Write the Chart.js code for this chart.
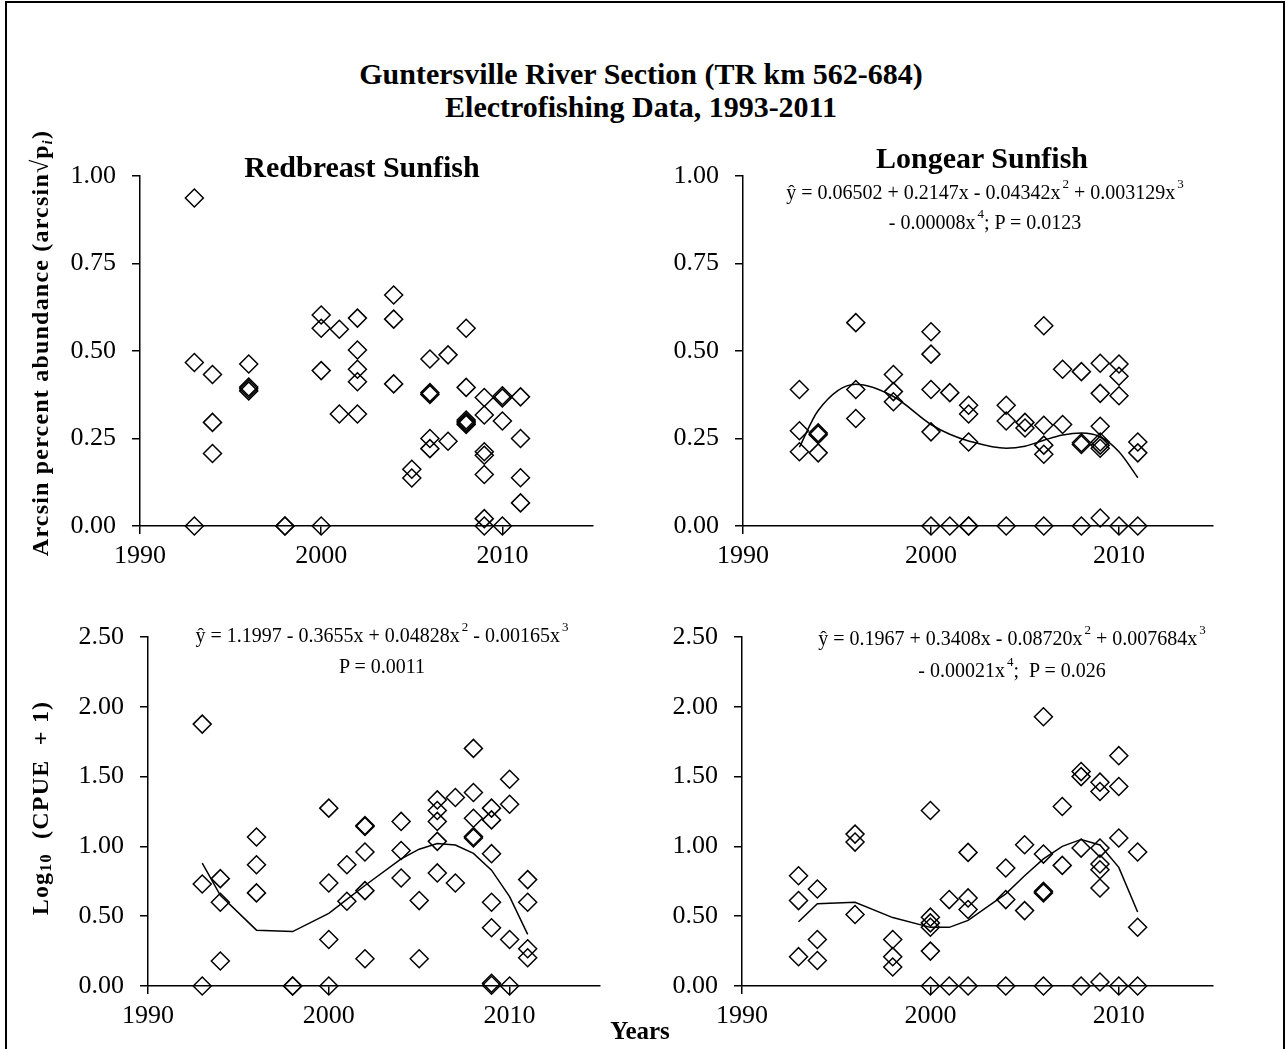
<!DOCTYPE html>
<html><head><meta charset="utf-8">
<script src="https://cdn.jsdelivr.net/npm/chart.js@4.4.1/dist/chart.umd.min.js"></script>
<style>
html,body{margin:0;padding:0;background:#fff;}
#wrap{position:relative;width:1285px;height:1049px;overflow:hidden;background:#fff;font-family:'Liberation Serif','Times New Roman',Times,serif;color:#000;}
canvas{position:absolute;}
#frame{position:absolute;left:5px;top:1px;width:1280px;height:1060px;border:2px solid #000;box-sizing:border-box;}
.t{position:absolute;white-space:nowrap;line-height:1;}
.b{font-weight:bold;}
sup.s{font-size:13px;position:relative;top:-0.85em;vertical-align:baseline;margin-left:2px;}
sub.i{font-size:14px;font-style:italic;vertical-align:baseline;position:relative;top:0.25em;}
sub.n{font-size:16px;vertical-align:baseline;position:relative;top:0.2em;}
</style></head><body>
<div id="wrap">
  <div id="frame"></div>
  <canvas id="c1" width="630" height="440" style="left:0px;top:140px"></canvas>
  <canvas id="c2" width="640" height="440" style="left:640px;top:140px"></canvas>
  <canvas id="c3" width="630" height="449" style="left:0px;top:600px"></canvas>
  <canvas id="c4" width="640" height="449" style="left:640px;top:600px"></canvas>

  <div class="t b" id="title1">Guntersville River Section (TR km 562-684)</div>
  <div class="t b" id="title2">Electrofishing Data, 1993-2011</div>
  <div class="t b" id="p1title">Redbreast Sunfish</div>
  <div class="t b" id="p2title">Longear Sunfish</div>
  <div class="t" id="eq2a">ŷ = 0.06502 + 0.2147x - 0.04342x<sup class="s">2</sup> + 0.003129x<sup class="s">3</sup></div>
  <div class="t" id="eq2b">- 0.00008x<sup class="s">4</sup>; P = 0.0123</div>
  <div class="t" id="eq3a">ŷ = 1.1997 - 0.3655x + 0.04828x<sup class="s">2</sup> - 0.00165x<sup class="s">3</sup></div>
  <div class="t" id="eq3b">P = 0.0011</div>
  <div class="t" id="eq4a">ŷ = 0.1967 + 0.3408x - 0.08720x<sup class="s">2</sup> + 0.007684x<sup class="s">3</sup></div>
  <div class="t" id="eq4b">- 0.00021x<sup class="s">4</sup>;&nbsp; P = 0.026</div>
  <div class="t b" id="ytitle1">Arcsin percent abundance (arcsin√p<sub class="i">i</sub>)</div>
  <div class="t b" id="ytitle2">Log<sub class="n">10</sub>&nbsp; (CPUE&nbsp; + 1)</div>
  <div class="t b" id="xtitle">Years</div>
</div>
<script>
// ---------------- DATA ----------------
const xTickValues = [1990, 2000, 2010];
const arcTickStep = 0.25;
const cpueTickStep = 0.5;

// Redbreast Sunfish – arcsin percent abundance
const redArcYears = [1993,1993,1993, 1994,1994,1994, 1996,1996,1996,1996, 1998,1998, 2000,2000,2000,2000, 2001,2001, 2002,2002,2002,2002,2002, 2004,2004,2004, 2005,2005, 2006,2006,2006,2006,2006, 2007,2007, 2008,2008,2008,2008,2008,2008, 2009,2009,2009,2009,2009,2009,2009, 2010,2010,2010,2010, 2011,2011,2011,2011];
const redArcValues = [0.937,0.467,0.000, 0.433,0.296,0.207, 0.463,0.397,0.392,0.386, 0.000,0.000, 0.603,0.565,0.444,0.000, 0.562,0.320, 0.594,0.503,0.448,0.412,0.320, 0.660,0.591,0.406, 0.162,0.137, 0.477,0.381,0.376,0.250,0.221, 0.489,0.242, 0.565,0.396,0.303,0.298,0.294,0.290, 0.367,0.317,0.212,0.202,0.147,0.021,0.000, 0.372,0.366,0.300,0.000, 0.369,0.250,0.138,0.066];

// Longear Sunfish – arcsin percent abundance
const lonArcYears = [1993,1993,1993, 1994,1994,1994, 1996,1996,1996, 1998,1998,1998, 2000,2000,2000,2000,2000, 2001,2001, 2002,2002,2002,2002,2002, 2004,2004,2004, 2005,2005, 2006,2006,2006,2006,2006, 2007,2007, 2008,2008,2008,2008, 2009,2009,2009,2009,2009,2009,2009, 2010,2010,2010,2010, 2011,2011,2011];
const lonArcValues = [0.390,0.272,0.212, 0.266,0.261,0.209, 0.581,0.390,0.307, 0.433,0.384,0.355, 0.555,0.491,0.390,0.269,0.000, 0.381,0.000, 0.345,0.320,0.240,0.000,0.000, 0.345,0.300,0.000, 0.296,0.280, 0.572,0.288,0.231,0.205,0.000, 0.448,0.290, 0.441,0.238,0.233,0.000, 0.465,0.379,0.285,0.240,0.231,0.222,0.023, 0.463,0.428,0.372,0.000, 0.240,0.209,0.000];
const lonArcFitYears = [1993,1994,1996,1998,2000,2001,2002,2004,2005,2006,2007,2008,2009,2010,2011];
const lonArcFitValues = [0.225,0.330,0.405,0.370,0.290,0.262,0.243,0.222,0.228,0.245,0.260,0.266,0.255,0.212,0.138];

// Redbreast Sunfish – log10(CPUE + 1)
const redCpueYears = [1993,1993,1993, 1994,1994,1994, 1996,1996,1996, 1998,1998, 2000,2000,2000,2000, 2001,2001, 2002,2002,2002,2002,2002, 2004,2004,2004, 2005,2005, 2006,2006,2006,2006,2006, 2007,2007, 2008,2008,2008,2008,2008, 2009,2009,2009,2009,2009,2009,2009, 2010,2010,2010,2010, 2011,2011,2011,2011];
const redCpueValues = [1.876,0.731,0.000, 0.769,0.600,0.179, 1.067,0.869,0.667, 0.000,0.000, 1.274,0.738,0.333,0.000, 0.869,0.607, 1.150,1.143,0.960,0.683,0.195, 1.179,0.971,0.774, 0.612,0.195, 1.333,1.257,1.179,1.036,0.810, 1.350,0.738, 1.702,1.386,1.202,1.071,1.060, 1.274,1.190,0.948,0.600,0.417,0.020,0.005, 1.481,1.302,0.333,0.000, 0.762,0.600,0.267,0.202];
const redCpueFitYears = [1993,1994,1996,1998,2000,2001,2002,2004,2005,2006,2007,2008,2009,2010,2011];
const redCpueFitValues = [0.88,0.65,0.40,0.39,0.52,0.62,0.72,0.91,0.98,1.02,1.01,0.95,0.83,0.64,0.37];

// Longear Sunfish – log10(CPUE + 1)
const lonCpueYears = [1993,1993,1993, 1994,1994,1994, 1996,1996,1996, 1998,1998,1998, 2000,2000,2000,2000,2000,2000, 2001,2001, 2002,2002,2002,2002, 2004,2004,2004, 2005,2005, 2006,2006,2006,2006,2006, 2007,2007, 2008,2008,2008,2008, 2009,2009,2009,2009,2009,2009,2009, 2010,2010,2010,2010, 2011,2011,2011];
const lonCpueValues = [0.790,0.612,0.210, 0.695,0.333,0.183, 1.088,1.031,0.512, 0.333,0.210,0.136, 1.257,0.493,0.452,0.421,0.250,0.000, 0.619,0.000, 0.957,0.631,0.548,0.000, 0.845,0.619,0.000, 1.012,0.540, 1.929,0.945,0.679,0.667,0.000, 1.286,0.864, 1.536,1.500,0.988,0.000, 1.460,1.393,0.988,0.874,0.833,0.702,0.029, 1.650,1.429,1.060,0.000, 0.960,0.421,0.000];
const lonCpueFitYears = [1993,1994,1996,1998,2000,2001,2002,2004,2005,2006,2007,2008,2009,2010,2011];
const lonCpueFitValues = [0.46,0.59,0.60,0.49,0.42,0.42,0.47,0.66,0.79,0.91,1.00,1.05,1.01,0.85,0.53];

// ---------------- CHARTS ----------------
const FONT = "'Liberation Serif','Times New Roman',Times,serif";
const pair = (xs, ys) => xs.map((x, i) => ({x: x, y: ys[i]}));

function makePanel(id, pts, fit, yMax, yStep, geo, smooth) {
  const datasets = [{
    data: pts,
    showLine: false,
    pointStyle: 'rectRot',
    pointRadius: 9,
    pointBorderWidth: 1.5,
    pointBorderColor: '#000',
    pointBackgroundColor: 'rgba(0,0,0,0)',
    clip: false,
    order: 2
  }];
  if (fit) {
    datasets.push({
      data: fit,
      showLine: true,
      borderColor: '#000',
      borderWidth: 1.5,
      pointRadius: 0,
      fill: false,
      tension: smooth ? 0.4 : 0,
      cubicInterpolationMode: smooth ? 'monotone' : 'default',
      clip: false,
      order: 1
    });
  }
  const axisGrid = {display: true, drawOnChartArea: false, drawTicks: true, tickLength: 8, color: '#000', lineWidth: 1.5};
  return new Chart(document.getElementById(id), {
    type: 'scatter',
    data: {datasets: datasets},
    options: {
      responsive: false,
      animation: false,
      devicePixelRatio: 1,
      events: [],
      layout: {padding: {top: geo.top, right: geo.right, left: 0, bottom: 0}},
      plugins: {legend: {display: false}, tooltip: {enabled: false}, title: {display: false}},
      scales: {
        x: {
          type: 'linear', min: 1990, max: 2015,
          grid: axisGrid,
          border: {display: true, color: '#000', width: 1.5},
          afterBuildTicks: (s) => { s.ticks = xTickValues.map(v => ({value: v})); },
          afterFit: (s) => { s.height = geo.xh; },
          ticks: {color: '#000', font: {family: FONT, size: 26}, padding: 7, maxRotation: 0,
                  callback: (v) => String(v)}
        },
        y: {
          type: 'linear', min: 0, max: yMax,
          grid: axisGrid,
          border: {display: true, color: '#000', width: 1.5},
          afterFit: (s) => { s.width = geo.yw; },
          ticks: {color: '#000', font: {family: FONT, size: 26}, padding: 16, stepSize: yStep,
                  callback: (v) => Number(v).toFixed(2)}
        }
      }
    }
  });
}

makePanel('c1', pair(redArcYears, redArcValues), null, 1.0, arcTickStep,
  {top: 36, right: 37, xh: 54, yw: 140}, false);
makePanel('c2', pair(lonArcYears, lonArcValues), pair(lonArcFitYears, lonArcFitValues), 1.0, arcTickStep,
  {top: 36, right: 67, xh: 54, yw: 103}, true);
makePanel('c3', pair(redCpueYears, redCpueValues), pair(redCpueFitYears, redCpueFitValues), 2.5, cpueTickStep,
  {top: 37, right: 30, xh: 63, yw: 148}, false);
makePanel('c4', pair(lonCpueYears, lonCpueValues), pair(lonCpueFitYears, lonCpueFitValues), 2.5, cpueTickStep,
  {top: 37, right: 67, xh: 63, yw: 102}, false);

// ---------------- TEXT PLACEMENT ----------------
function place(id, cx, baseline, size) {
  const el = document.getElementById(id);
  el.style.fontSize = size + 'px';
  el.style.left = cx + 'px';
  el.style.top = (baseline - 0.8375 * size) + 'px';
  el.style.transform = 'translateX(-50%)';
}
function placeRot(id, cx, cy, size, spacing) {
  const el = document.getElementById(id);
  el.style.fontSize = size + 'px';
  el.style.letterSpacing = spacing + 'px';
  el.style.left = cx + 'px';
  el.style.top = cy + 'px';
  el.style.transform = 'translate(-50%,-50%) rotate(-90deg)';
}
place('title1', 641, 84, 30);
place('title2', 641, 117, 30);
place('p1title', 362, 177, 30);
place('p2title', 982, 168, 30);
place('eq2a', 985, 199, 20);
place('eq2b', 985, 229, 20);
place('eq3a', 382, 642, 20);
place('eq3b', 382, 673, 20);
place('eq4a', 1012, 645, 20);
place('eq4b', 1012, 677, 20);
place('xtitle', 640, 1039, 25);
placeRot('ytitle1', 40, 343, 24, 1.2);
placeRot('ytitle2', 40, 808, 24, 1.2);
</script>
</body></html>
